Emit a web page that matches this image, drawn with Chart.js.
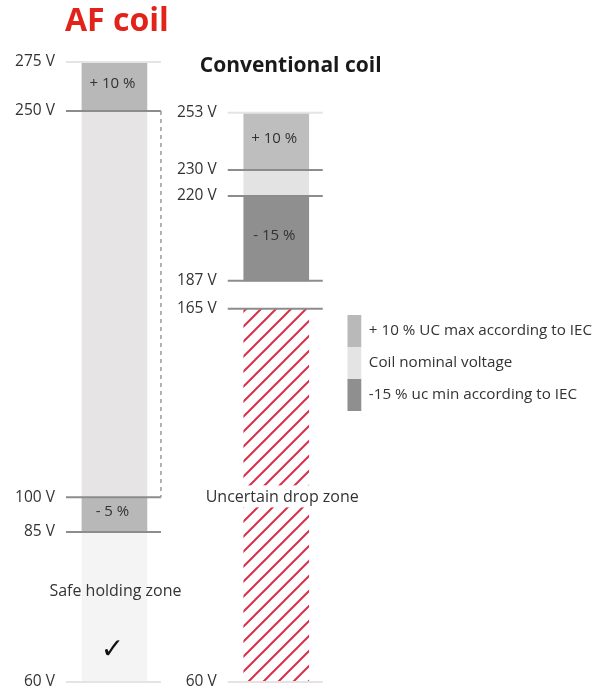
<!DOCTYPE html>
<html>
<head>
<meta charset="utf-8">
<script src="https://cdn.jsdelivr.net/npm/chart.js@4/dist/chart.umd.min.js"></script>
<style>
  html, body { margin: 0; padding: 0; background: #fff; }
  #wrap { width: 602px; height: 689px; }
</style>
</head>
<body>
<div id="wrap"><canvas id="coil-chart"></canvas></div>
<script>
// columns (x index 0 and 1)
const columns = ['AF coil', 'Conventional coil'];

// voltage marks on each column
const afTicks = [275, 250, 100, 85, 60];
const convTicks = [253, 230, 220, 187, 165, 60];

// bands, [low, high] in volts, with the text written inside
const afBands = [[250, 275], [100, 250], [85, 100], [60, 85]];
const afBandText = ['+ 10 %', '', '- 5 %', 'Safe holding zone'];
const convBands = [[230, 253], [220, 230], [187, 220], [60, 165]];
const convBandText = ['+ 10 %', '', '- 15 %', 'Uncertain drop zone'];

const legendLabels = [
    '+ 10 % UC max according to IEC',
    'Coil nominal voltage',
    '-15 % uc min according to IEC'
];

// styles
const textColor = '#333333';
const fontFamily = "'Open Sans', 'Noto Sans', sans-serif";
const legendColors = ['#b9b9b9', '#e4e4e4', '#8f8f8f'];
const afColors = ['#b8b8b8', '#e6e4e4', '#b8b8b8', '#f4f4f4'];

function makeHatch() {
    const c = document.createElement('canvas');
    c.width = 15;
    c.height = 15;
    const g = c.getContext('2d');
    g.fillStyle = '#ffffff';
    g.fillRect(0, 0, 15, 15);
    g.strokeStyle = '#d9304a';
    g.lineWidth = 2;
    g.beginPath();
    g.moveTo(-2, 17); g.lineTo(17, -2);
    g.moveTo(-2, 2); g.lineTo(2, -2);
    g.moveTo(13, 17); g.lineTo(17, 13);
    g.stroke();
    return g.createPattern(c, 'repeat');
}
const convColors = ['#bebebe', '#e3e3e3', '#8f8f8f', makeHatch()];

// the picture is schematic, not to scale: where each mark sits on its column
// (0 = bottom of plot, 1 = top of plot)
const afStops = [[275, 1], [250, 0.921], [100, 0.298], [85, 0.242], [60, 0]];
const convStops = [[253, 0.918], [230, 0.826], [220, 0.784], [187, 0.647], [165, 0.602], [60, 0]];

// a linear scale that is linear only between its stops
class StepScale extends Chart.LinearScale {
    static id = 'steps';
    static defaults = Chart.LinearScale.defaults;

    getPixelForValue(value) {
        const stops = this.options.stops;
        let dec = value >= stops[0][0] ? stops[0][1] : 0;
        for (let i = 0; i < stops.length - 1; i++) {
            const [v0, d0] = stops[i];
            const [v1, d1] = stops[i + 1];
            if (value <= v0 && value >= v1) {
                dec = d1 + (value - v1) / (v0 - v1) * (d0 - d1);
                break;
            }
        }
        return this.getPixelForDecimal(dec);
    }

    getValueForPixel(pixel) {
        const stops = this.options.stops;
        const dec = this.getDecimalForPixel(pixel);
        for (let i = 0; i < stops.length - 1; i++) {
            const [v0, d0] = stops[i];
            const [v1, d1] = stops[i + 1];
            if (dec <= d0 && dec >= d1) {
                return v1 + (dec - d1) / (d0 - d1) * (v0 - v1);
            }
        }
        return stops[stops.length - 1][0];
    }
}
Chart.register(StepScale);

const datasets = [];
afBands.forEach((band, i) => {
    datasets.push({
        label: columns[0] + ' ' + i,
        data: [{ x: 0, y: band }],
        backgroundColor: afColors[i],
        yAxisID: 'yAF',
        note: afBandText[i]
    });
});
convBands.forEach((band, i) => {
    datasets.push({
        label: columns[1] + ' ' + i,
        data: [{ x: 1, y: band }],
        backgroundColor: convColors[i],
        yAxisID: 'yConv',
        note: convBandText[i]
    });
});

// tick lines, voltage labels, band texts, column headings
const overlay = {
    id: 'overlay',
    afterDatasetsDraw(chart) {
        const ctx = chart.ctx;
        const xs = chart.scales.x;
        const barW = chart.getDatasetMeta(0).data[0].width;
        const cols = [
            { scale: chart.scales.yAF, ticks: afTicks, bands: afBands, text: afBandText, cx: xs.getPixelForValue(0) },
            { scale: chart.scales.yConv, ticks: convTicks, bands: convBands, text: convBandText, cx: xs.getPixelForValue(1) }
        ];
        ctx.save();
        cols.forEach((col, ci) => {
            const left = col.cx - barW / 2;
            const right = col.cx + barW / 2;

            // band texts
            col.bands.forEach((band, bi) => {
                const t = col.text[bi];
                if (!t) return;
                const top = col.scale.getPixelForValue(band[1]);
                const bottom = col.scale.getPixelForValue(band[0]);
                const mid = (top + bottom) / 2;
                ctx.textAlign = 'center';
                ctx.textBaseline = 'middle';
                if (t === 'Safe holding zone') {
                    ctx.font = '16px ' + fontFamily;
                    ctx.fillStyle = textColor;
                    ctx.fillText(t, col.cx + 1, mid - 16);
                    ctx.font = 'bold 28px DejaVu Sans';
                    ctx.fillStyle = '#111111';
                    ctx.fillText('\u2713', col.cx - 2, mid + 44);
                } else if (t === 'Uncertain drop zone') {
                    ctx.font = '16px ' + fontFamily;
                    const w = ctx.measureText(t).width;
                    ctx.fillStyle = '#ffffff';
                    ctx.fillRect(col.cx + 6 - w / 2 - 3, mid - 10, w + 6, 22);
                    ctx.fillStyle = textColor;
                    ctx.fillText(t, col.cx + 6, mid + 2);
                } else {
                    ctx.font = '15px ' + fontFamily;
                    ctx.fillStyle = textColor;
                    ctx.fillText(t, col.cx - 2, mid - 3);
                }
            });

            // tick lines and labels
            col.ticks.forEach((v, ti) => {
                const y = col.scale.getPixelForValue(v);
                const faint = ti === 0 || ti === col.ticks.length - 1;
                ctx.strokeStyle = faint ? '#e4e4e4' : '#8c8c8c';
                ctx.lineWidth = 2;
                ctx.beginPath();
                ctx.moveTo(left - 16, y);
                ctx.lineTo(right + 14, y);
                ctx.stroke();
                ctx.font = '15.5px ' + fontFamily;
                ctx.fillStyle = textColor;
                ctx.textAlign = 'right';
                ctx.textBaseline = 'middle';
                ctx.fillText(v + ' V', left - 27, y);
            });

            // dashed bracket beside the AF nominal band
            if (ci === 0) {
                const band = col.bands[1];
                ctx.strokeStyle = '#9a9a9a';
                ctx.lineWidth = 1.5;
                ctx.setLineDash([4, 4]);
                ctx.beginPath();
                ctx.moveTo(right + 14, col.scale.getPixelForValue(band[1]));
                ctx.lineTo(right + 14, col.scale.getPixelForValue(band[0]));
                ctx.stroke();
                ctx.setLineDash([]);
            }
        });

        // heading of the conventional column
        ctx.font = 'bold 21px ' + fontFamily;
        ctx.fillStyle = '#1a1a1a';
        ctx.textAlign = 'left';
        ctx.textBaseline = 'middle';
        ctx.fillText(columns[1], cols[1].cx - barW / 2 - 44, chart.chartArea.top + 4);
        ctx.restore();
    }
};

new Chart(document.getElementById('coil-chart'), {
    type: 'bar',
    data: { datasets: datasets },
    plugins: [overlay],
    options: {
        responsive: true,
        maintainAspectRatio: false,
        animation: false,
        events: [],
        layout: { padding: { left: 65, right: 0, top: 0, bottom: 7 } },
        datasets: {
            bar: { barThickness: 65, grouped: false, borderWidth: 0 }
        },
        scales: {
            x: { type: 'linear', offset: false, min: -0.3056, max: 1.439, display: false },
            yAF: { type: 'steps', axis: 'y', position: 'left', stops: afStops, min: 60, max: 275, display: false },
            yConv: { type: 'steps', axis: 'y', position: 'left', stops: convStops, min: 60, max: 253, display: false }
        },
        plugins: {
            title: {
                display: true,
                text: columns[0],
                align: 'start',
                color: '#e2231a',
                font: { family: fontFamily, size: 32, weight: 'bold' },
                padding: { top: 3, bottom: 20.6 }
            },
            legend: {
                position: 'right',
                // empty title only pushes the swatches down a little
                title: { display: true, text: '', font: { size: 10 }, padding: { top: 32, bottom: 0 } },
                labels: {
                    boxWidth: 14,
                    boxHeight: 32,
                    padding: 0,
                    color: textColor,
                    font: { family: fontFamily, size: 15.2 },
                    generateLabels: () => legendLabels.map((t, i) => ({
                        text: t,
                        fillStyle: legendColors[i],
                        strokeStyle: legendColors[i],
                        lineWidth: 0,
                        hidden: false,
                        fontColor: textColor
                    }))
                }
            },
            tooltip: { enabled: false }
        }
    }
});
</script>
</body>
</html>
